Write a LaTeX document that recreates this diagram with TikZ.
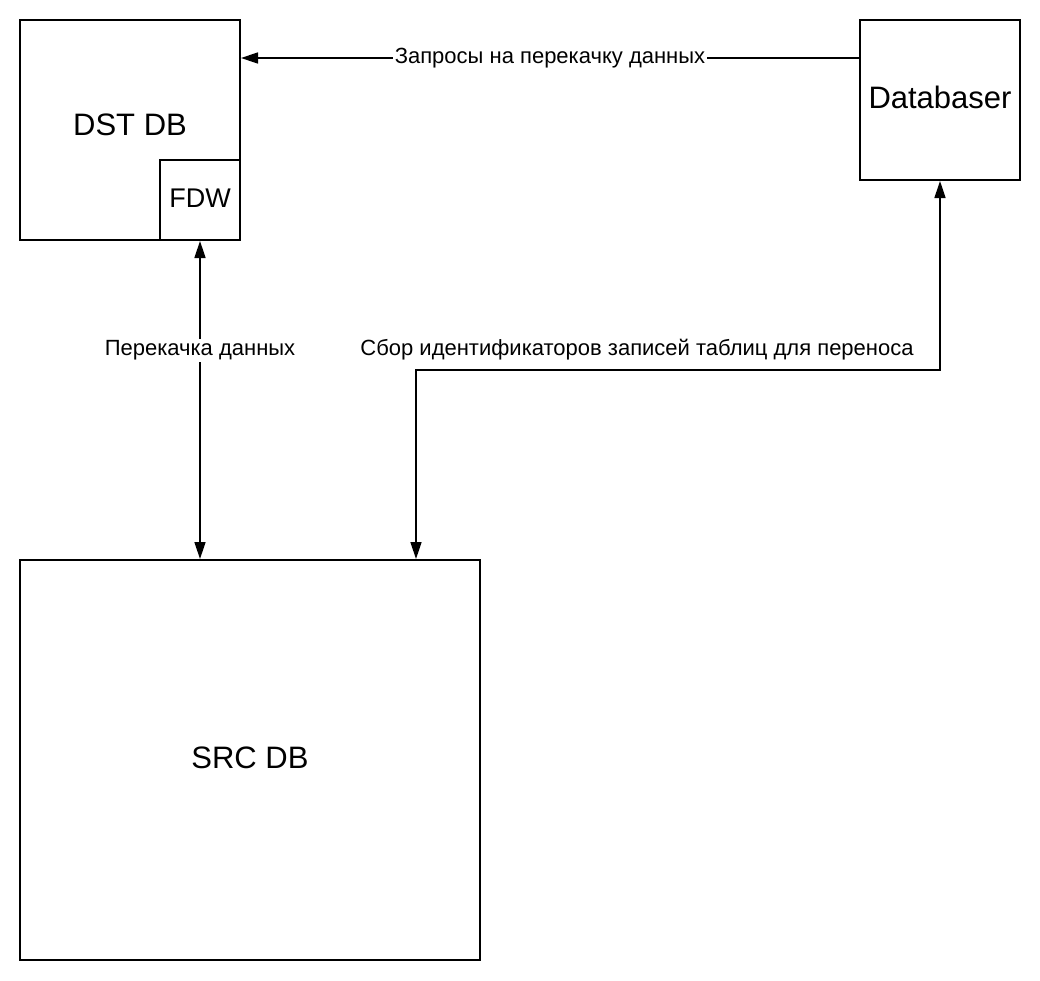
\documentclass[tikz,border=0pt]{standalone}
\usepackage{fontspec}
\setmainfont{Liberation Sans}
\usetikzlibrary{
	positioning,
	arrows.meta
}

\begin{document}
\begin{tikzpicture}[
		x=1pt, y=-1pt,
		box/.style={draw, line width=2pt, inner sep=0pt, text depth=0.45em, font=\fontsize{31}{37}\selectfont},
		tag/.style={fill=white, inner sep=2pt, font=\fontsize{22}{26}\selectfont},
		link/.style={line width=1.5pt, {Triangle[length=17pt,width=11pt]}-{Triangle[length=17pt,width=11pt]}},
		oneway/.style={line width=1.5pt, -{Triangle[length=17pt,width=11pt]}}
	]
	\useasboundingbox (0,0) rectangle (1040,980);

	\node [box, minimum width=220pt, minimum height=220pt] (dst) at (130,130) {};
	\node [font=\fontsize{31}{37}\selectfont]                (dstname) at (130,125) {DST DB};
	\node [box, minimum width=80pt, minimum height=80pt, text depth=0.3em, font=\fontsize{27}{32}\selectfont]
		(fdw) at (200,200) {FDW};
	\node [box, minimum width=160pt, minimum height=160pt]   (dbr) at (940,100) {Databaser};
	\node [box, minimum width=460pt, minimum height=400pt]   (src) at (250,760) {SRC DB};

	\coordinate (bend) at (416,370);

	\draw [oneway] ([yshift=-39pt]dbr.north west) -- ([yshift=-39pt]dst.north east)
		node [tag, midway] (ask) {Запросы на перекачку данных};
	\draw [link] (fdw.south) -- (fdw.south |- src.north)
		node [tag, pos=0.344] (pump) {Перекачка данных};
	\draw [link] (dbr.south) |- (bend) -- (bend |- src.north);
	\node [tag, fill=none] (collect) at (637,350) {Сбор идентификаторов записей таблиц для переноса};
\end{tikzpicture}
\end{document}
